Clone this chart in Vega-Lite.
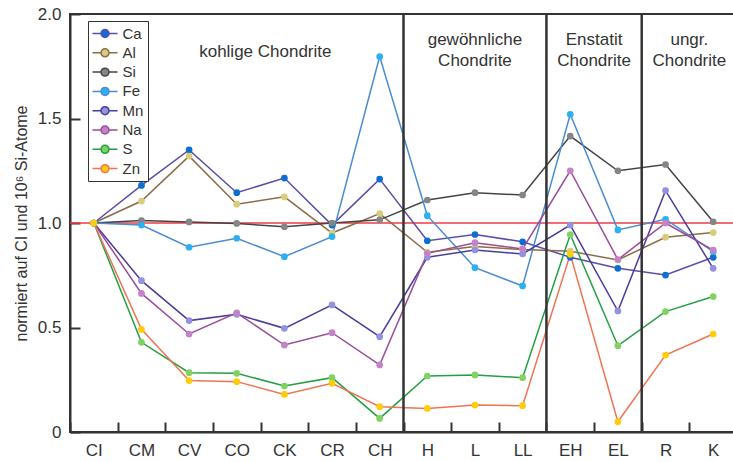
{
  "$schema": "https://vega.github.io/schema/vega-lite/v6.json",
  "width": 667,
  "height": 418,
  "autosize": "none",
  "padding": {"left": 70, "top": 14, "right": 0, "bottom": 30},
  "config": {
    "font": "Liberation Sans",
    "view": {"stroke": "#333", "strokeWidth": 2},
    "axis": {"domainColor": "#333", "domainWidth": 2, "labelColor": "#333", "titleColor": "#333", "grid": false, "labelFont": "Liberation Sans", "titleFont": "Liberation Sans"},
    "legend": {"labelFont": "Liberation Sans"}
  },
  "datasets": {
    "chem": [
      {"e":"Ca","c":"CI","v":1.0},{"e":"Ca","c":"CM","v":1.18},{"e":"Ca","c":"CV","v":1.35},{"e":"Ca","c":"CO","v":1.145},{"e":"Ca","c":"CK","v":1.215},{"e":"Ca","c":"CR","v":0.99},{"e":"Ca","c":"CH","v":1.21},{"e":"Ca","c":"H","v":0.915},{"e":"Ca","c":"L","v":0.945},{"e":"Ca","c":"LL","v":0.91},{"e":"Ca","c":"EH","v":0.836},{"e":"Ca","c":"EL","v":0.783},{"e":"Ca","c":"R","v":0.751},{"e":"Ca","c":"K","v":0.836},
      {"e":"Al","c":"CI","v":1.0},{"e":"Al","c":"CM","v":1.105},{"e":"Al","c":"CV","v":1.32},{"e":"Al","c":"CO","v":1.09},{"e":"Al","c":"CK","v":1.125},{"e":"Al","c":"CR","v":0.952},{"e":"Al","c":"CH","v":1.045},{"e":"Al","c":"H","v":0.86},{"e":"Al","c":"L","v":0.887},{"e":"Al","c":"LL","v":0.873},{"e":"Al","c":"EH","v":0.865},{"e":"Al","c":"EL","v":0.823},{"e":"Al","c":"R","v":0.932},{"e":"Al","c":"K","v":0.954},
      {"e":"Si","c":"CI","v":1.0},{"e":"Si","c":"CM","v":1.012},{"e":"Si","c":"CV","v":1.005},{"e":"Si","c":"CO","v":0.998},{"e":"Si","c":"CK","v":0.982},{"e":"Si","c":"CR","v":1.0},{"e":"Si","c":"CH","v":1.015},{"e":"Si","c":"H","v":1.11},{"e":"Si","c":"L","v":1.145},{"e":"Si","c":"LL","v":1.134},{"e":"Si","c":"EH","v":1.416},{"e":"Si","c":"EL","v":1.25},{"e":"Si","c":"R","v":1.28},{"e":"Si","c":"K","v":1.006},
      {"e":"Fe","c":"CI","v":1.0},{"e":"Fe","c":"CM","v":0.99},{"e":"Fe","c":"CV","v":0.884},{"e":"Fe","c":"CO","v":0.927},{"e":"Fe","c":"CK","v":0.839},{"e":"Fe","c":"CR","v":0.935},{"e":"Fe","c":"CH","v":1.796},{"e":"Fe","c":"H","v":1.035},{"e":"Fe","c":"L","v":0.786},{"e":"Fe","c":"LL","v":0.699},{"e":"Fe","c":"EH","v":1.52},{"e":"Fe","c":"EL","v":0.967},{"e":"Fe","c":"R","v":1.018},{"e":"Fe","c":"K","v":0.863},
      {"e":"Mn","c":"CI","v":1.0},{"e":"Mn","c":"CM","v":0.724},{"e":"Mn","c":"CV","v":0.533},{"e":"Mn","c":"CO","v":0.563},{"e":"Mn","c":"CK","v":0.496},{"e":"Mn","c":"CR","v":0.608},{"e":"Mn","c":"CH","v":0.456},{"e":"Mn","c":"H","v":0.836},{"e":"Mn","c":"L","v":0.871},{"e":"Mn","c":"LL","v":0.852},{"e":"Mn","c":"EH","v":0.99},{"e":"Mn","c":"EL","v":0.579},{"e":"Mn","c":"R","v":1.155},{"e":"Mn","c":"K","v":0.783},
      {"e":"Na","c":"CI","v":1.0},{"e":"Na","c":"CM","v":0.663},{"e":"Na","c":"CV","v":0.469},{"e":"Na","c":"CO","v":0.57},{"e":"Na","c":"CK","v":0.416},{"e":"Na","c":"CR","v":0.475},{"e":"Na","c":"CH","v":0.321},{"e":"Na","c":"H","v":0.855},{"e":"Na","c":"L","v":0.906},{"e":"Na","c":"LL","v":0.876},{"e":"Na","c":"EH","v":1.25},{"e":"Na","c":"EL","v":0.825},{"e":"Na","c":"R","v":1.0},{"e":"Na","c":"K","v":0.87},
      {"e":"S","c":"CI","v":1.0},{"e":"S","c":"CM","v":0.429},{"e":"S","c":"CV","v":0.284},{"e":"S","c":"CO","v":0.281},{"e":"S","c":"CK","v":0.22},{"e":"S","c":"CR","v":0.26},{"e":"S","c":"CH","v":0.065},{"e":"S","c":"H","v":0.268},{"e":"S","c":"L","v":0.273},{"e":"S","c":"LL","v":0.26},{"e":"S","c":"EH","v":0.945},{"e":"S","c":"EL","v":0.413},{"e":"S","c":"R","v":0.576},{"e":"S","c":"K","v":0.648},
      {"e":"Zn","c":"CI","v":1.0},{"e":"Zn","c":"CM","v":0.491},{"e":"Zn","c":"CV","v":0.246},{"e":"Zn","c":"CO","v":0.241},{"e":"Zn","c":"CK","v":0.18},{"e":"Zn","c":"CR","v":0.233},{"e":"Zn","c":"CH","v":0.121},{"e":"Zn","c":"H","v":0.113},{"e":"Zn","c":"L","v":0.129},{"e":"Zn","c":"LL","v":0.126},{"e":"Zn","c":"EH","v":0.85},{"e":"Zn","c":"EL","v":0.049},{"e":"Zn","c":"R","v":0.368},{"e":"Zn","c":"K","v":0.469}
    ],
    "groups": [
      {"g": "a", "label": ["kohlige Chondrite"], "c": "CK", "v": 1.818},
      {"g": "b", "label": ["gewöhnliche", "Chondrite"], "c": "L", "v": 1.876},
      {"g": "c", "label": ["Enstatit", "Chondrite"], "c": "EL", "v": 1.876},
      {"g": "c", "label": ["ungr.", "Chondrite"], "c": "K", "v": 1.876}
    ],
    "seps": [{"c": "H"}, {"c": "EH"}, {"c": "R"}],
    "ref": [{"v": 1}]
  },
  "layer": [
    {
      "data": {"name": "ref"},
      "mark": {"type": "rule", "color": "#f03a48", "strokeWidth": 1.5},
      "encoding": {"y": {"field": "v", "type": "quantitative"}}
    },
    {
      "data": {"name": "chem"},
      "mark": {"type": "line", "strokeWidth": 1.5},
      "encoding": {
        "x": {"field": "c", "type": "nominal", "bandPosition": 0.5, "sort": ["CI","CM","CV","CO","CK","CR","CH","H","L","LL","EH","EL","R","K"],
          "scale": {"type": "band", "paddingInner": 0, "paddingOuter": 0, "domain": ["CI","CM","CV","CO","CK","CR","CH","H","L","LL","EH","EL","R","K"]},
          "axis": {"title": null, "orient": "bottom", "labelAngle": 0, "labelFontSize": 17, "ticks": true, "tickSize": -10, "tickColor": "#333", "tickWidth": 2, "tickBand": "extent", "labelPadding": 20}},
        "y": {"field": "v", "type": "quantitative",
          "scale": {"domain": [0, 2], "nice": false},
          "axis": {"orient": "left", "title": "normiert auf CI und 10⁶ Si-Atome", "titleFontSize": 16, "titleFontWeight": "normal", "titlePadding": 8, "values": [0, 0.5, 1, 1.5, 2], "labelExpr": "datum.value == 0 ? '0' : format(datum.value, '.1f')", "labelFontSize": 17, "ticks": true, "tickSize": -10, "tickColor": "#333", "tickWidth": 2, "labelPadding": 19}},
        "stroke": {"field": "e", "type": "nominal",
          "scale": {"domain": ["Ca","Al","Si","Fe","Mn","Na","S","Zn"], "range": ["#5a4eaa","#8c6c44","#444444","#4a8cd2","#4a3c9c","#9a4c9a","#22a044","#f07454"]},
          "legend": {"title": null, "orient": "none", "legendX": 18, "legendY": 7, "padding": 4, "symbolOffset": 4.5, "labelOffset": 9, "rowPadding": 2.3, "labelFontSize": 15, "labelColor": "#333", "strokeColor": "#333", "fillColor": "white",
            "symbolType": "M-1.67,0H-0.53M0.53,0H1.67M-0.53,0A0.53,0.53,0,1,1,0.53,0A0.53,0.53,0,1,1,-0.53,0Z", "symbolSize": 225, "symbolStrokeWidth": 1.5}}
      }
    },
    {
      "data": {"name": "seps"},
      "mark": {"type": "rule", "color": "#333", "strokeWidth": 2.5},
      "encoding": {"x": {"field": "c", "type": "nominal", "bandPosition": 0}}
    },
    {
      "data": {"name": "chem"},
      "mark": {"type": "circle", "size": 45, "opacity": 1},
      "encoding": {
        "x": {"field": "c", "type": "nominal", "bandPosition": 0.5},
        "y": {"field": "v", "type": "quantitative"},
        "fill": {"field": "e", "type": "nominal",
          "scale": {"domain": ["Ca","Al","Si","Fe","Mn","Na","S","Zn"], "range": ["#0d6ed2","#d8cc7e","#858585","#2cb0f0","#9292de","#c482ca","#82d262","#ffcc0a"]},
          "legend": {"title": null, "orient": "none", "legendX": 18, "legendY": 7, "padding": 4, "symbolOffset": 4.5, "labelOffset": 9, "rowPadding": 2.3, "labelFontSize": 15, "labelColor": "#333", "strokeColor": "#333", "fillColor": "white",
            "symbolType": "M-1.67,0H-0.53M0.53,0H1.67M-0.53,0A0.53,0.53,0,1,1,0.53,0A0.53,0.53,0,1,1,-0.53,0Z", "symbolSize": 225, "symbolStrokeWidth": 1.5}}
      }
    },
    {
      "data": {"name": "groups"},
      "transform": [{"filter": "datum.g == 'a'"}],
      "mark": {"type": "text", "fontSize": 17, "color": "#333", "align": "center", "baseline": "middle", "lineHeight": 21},
      "encoding": {
        "x": {"field": "c", "type": "nominal", "bandPosition": 0.1},
        "y": {"field": "v", "type": "quantitative"},
        "text": {"field": "label"}
      }
    },
    {
      "data": {"name": "groups"},
      "transform": [{"filter": "datum.g == 'b'"}],
      "mark": {"type": "text", "fontSize": 17, "color": "#333", "align": "center", "baseline": "middle", "lineHeight": 21},
      "encoding": {
        "x": {"field": "c", "type": "nominal", "bandPosition": 0.5},
        "y": {"field": "v", "type": "quantitative"},
        "text": {"field": "label"}
      }
    },
    {
      "data": {"name": "groups"},
      "transform": [{"filter": "datum.g == 'c'"}],
      "mark": {"type": "text", "fontSize": 17, "color": "#333", "align": "center", "baseline": "middle", "lineHeight": 21},
      "encoding": {
        "x": {"field": "c", "type": "nominal", "bandPosition": 0},
        "y": {"field": "v", "type": "quantitative"},
        "text": {"field": "label"}
      }
    }
  ]
}
